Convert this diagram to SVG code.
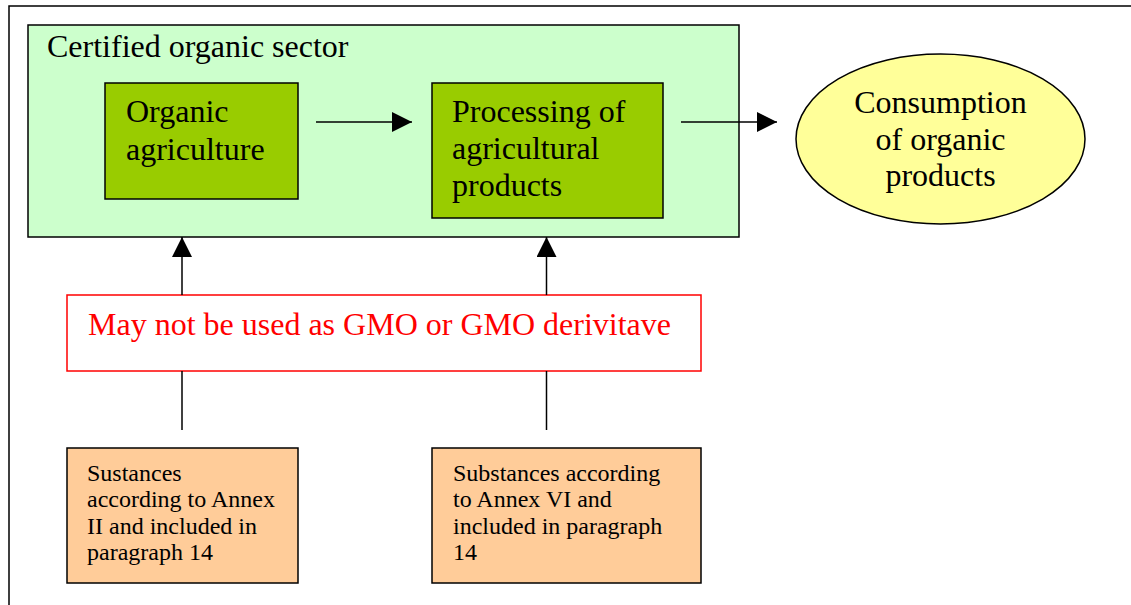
<svg xmlns="http://www.w3.org/2000/svg" width="1131" height="605" viewBox="0 0 1131 605">
<style>
text{font-family:"Liberation Serif","Times New Roman",serif;fill:#000}
.big{font-size:32px}
.small{font-size:24px}
.red{fill:#FF0000}
.box{stroke:#000;stroke-width:1.5}
.ln{stroke:#000;stroke-width:1.5;fill:none}
</style>
<defs>
<marker id="ah" markerWidth="20" markerHeight="20" refX="20" refY="10" orient="auto" markerUnits="userSpaceOnUse">
<path d="M0,0 L20,10 L0,20 Z" fill="#000"/>
</marker>
</defs>
<rect width="1131" height="605" fill="#fff"/>
<g id="frame">
<path d="M9,605 V6 H1131" class="ln" stroke-width="2"/>
</g>
<g id="sector">
<rect x="28" y="25" width="711" height="212" fill="#CCFFCC" class="box"/>
<text class="big" x="47" y="57">Certified organic sector</text>
</g>
<g id="organic-agriculture">
<rect x="105" y="83" width="193" height="116" fill="#99CC00" class="box"/>
<text class="big" x="126" y="122">Organic</text>
<text class="big" x="126" y="160">agriculture</text>
</g>
<g id="processing">
<rect x="432" y="83" width="231" height="135" fill="#99CC00" class="box"/>
<text class="big" x="452" y="122">Processing of</text>
<text class="big" x="452" y="159">agricultural</text>
<text class="big" x="452" y="196">products</text>
</g>
<g id="consumption">
<ellipse cx="940.5" cy="139" rx="144.5" ry="85" fill="#FFFF99" class="box"/>
<text class="big" x="940.5" y="113" text-anchor="middle">Consumption</text>
<text class="big" x="940.5" y="150" text-anchor="middle">of organic</text>
<text class="big" x="940.5" y="186" text-anchor="middle">products</text>
</g>
<g id="gmo">
<rect x="67" y="295" width="634" height="76" fill="#fff" stroke="#FF0000" stroke-width="1.5"/>
<text class="big red" x="88" y="335">May not be used as GMO or GMO derivitave</text>
</g>
<g id="annex-ii">
<rect x="67" y="448" width="231" height="135" fill="#FFCC99" class="box"/>
<text class="small" x="87" y="481">Sustances</text>
<text class="small" x="87" y="507">according to Annex</text>
<text class="small" x="87" y="534">II and included in</text>
<text class="small" x="87" y="560">paragraph 14</text>
</g>
<g id="annex-vi">
<rect x="432" y="448" width="269" height="135" fill="#FFCC99" class="box"/>
<text class="small" x="453" y="481">Substances according</text>
<text class="small" x="453" y="507">to Annex VI and</text>
<text class="small" x="453" y="534">included in paragraph</text>
<text class="small" x="453" y="560">14</text>
</g>
<g id="connectors">
<line x1="316" y1="122" x2="412" y2="122" class="ln" marker-end="url(#ah)"/>
<line x1="681" y1="122" x2="777" y2="122" class="ln" marker-end="url(#ah)"/>
<line x1="182" y1="295" x2="182" y2="237" class="ln" marker-end="url(#ah)"/>
<line x1="546.5" y1="295" x2="546.5" y2="237" class="ln" marker-end="url(#ah)"/>
<line x1="182" y1="371" x2="182" y2="430" class="ln"/>
<line x1="546.5" y1="371" x2="546.5" y2="430" class="ln"/>
</g>
</svg>
